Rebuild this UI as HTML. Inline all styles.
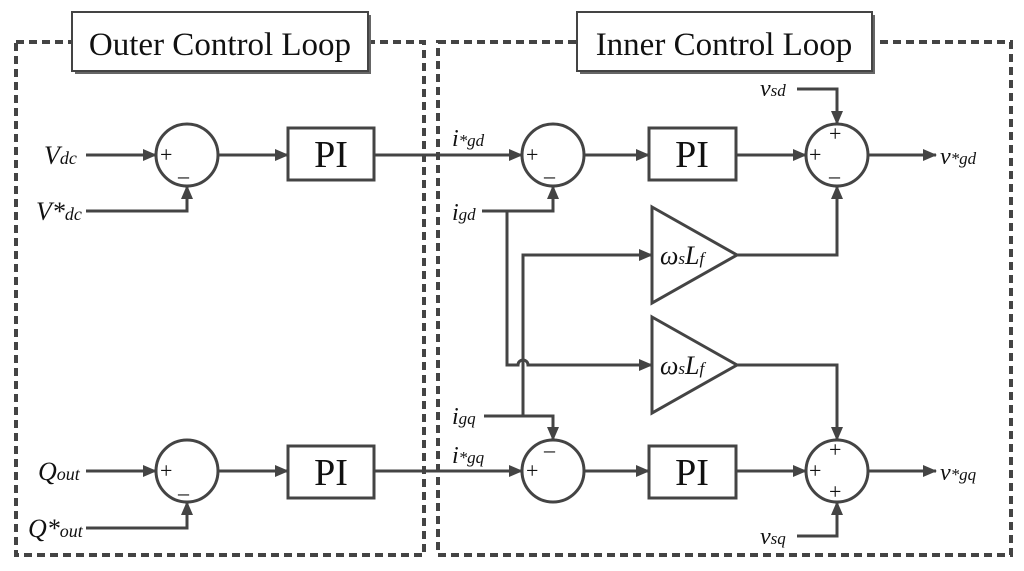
<!DOCTYPE html>
<html><head><meta charset="utf-8"><style>
html,body{margin:0;padding:0;background:#fff;}
svg{display:block;}
text{font-family:"Liberation Serif",serif;fill:#111;}
.it{font-style:italic;}
</style></head><body>
<svg width="1024" height="571" viewBox="0 0 1024 571" xmlns="http://www.w3.org/2000/svg">
<defs>
<marker id="a" viewBox="0 0 14 12" refX="13" refY="6" markerWidth="14" markerHeight="12" orient="auto" markerUnits="userSpaceOnUse">
<path d="M0,0 L14,6 L0,12 z" fill="#444"/>
</marker>
</defs>
<g fill="none" stroke="#444" stroke-width="4" stroke-dasharray="8,5">
<rect x="16" y="42" width="408" height="513"/>
<rect x="438" y="42" width="573" height="513"/>
</g>
<!-- title boxes -->
<rect x="75" y="15" width="296" height="59" fill="#666"/>
<rect x="72" y="12" width="296" height="59" fill="#fff" stroke="#444" stroke-width="2"/>
<text x="220" y="55" font-size="33" text-anchor="middle">Outer Control Loop</text>
<rect x="580" y="15" width="295" height="59" fill="#666"/>
<rect x="577" y="12" width="295" height="59" fill="#fff" stroke="#444" stroke-width="2"/>
<text x="724" y="55" font-size="33" text-anchor="middle">Inner Control Loop</text>

<g fill="none" stroke="#444" stroke-width="3">
<circle cx="187" cy="155" r="31"/>
<rect x="288" y="128" width="86" height="52"/>
<circle cx="187" cy="471" r="31"/>
<rect x="288" y="446" width="86" height="52"/>
<line x1="86" y1="155" x2="156" y2="155" marker-end="url(#a)"/>
<polyline points="86,211 187,211 187,186" marker-end="url(#a)"/>
<line x1="218" y1="155" x2="288" y2="155" marker-end="url(#a)"/>
<line x1="86" y1="471" x2="156" y2="471" marker-end="url(#a)"/>
<polyline points="86,528 187,528 187,502" marker-end="url(#a)"/>
<line x1="218" y1="471" x2="288" y2="471" marker-end="url(#a)"/>
<line x1="374" y1="155" x2="522" y2="155" marker-end="url(#a)"/>
<line x1="374" y1="471" x2="522" y2="471" marker-end="url(#a)"/>
<circle cx="553" cy="155" r="31"/>
<circle cx="553" cy="471" r="31"/>
<rect x="649" y="128" width="87" height="52"/>
<rect x="649" y="446" width="87" height="52"/>
<circle cx="837" cy="155" r="31"/>
<circle cx="837" cy="471" r="31"/>
<line x1="584" y1="155" x2="649" y2="155" marker-end="url(#a)"/>
<line x1="736" y1="155" x2="806" y2="155" marker-end="url(#a)"/>
<line x1="868" y1="155" x2="936" y2="155" marker-end="url(#a)"/>
<line x1="584" y1="471" x2="649" y2="471" marker-end="url(#a)"/>
<line x1="736" y1="471" x2="806" y2="471" marker-end="url(#a)"/>
<line x1="868" y1="471" x2="936" y2="471" marker-end="url(#a)"/>
<polyline points="797,89 837,89 837,124" marker-end="url(#a)"/>
<polyline points="797,536 837,536 837,502" marker-end="url(#a)"/>
<polygon points="652,207 737,255 652,303"/>
<polygon points="652,317 737,365 652,413"/>
<polyline points="737,255 837,255 837,186" marker-end="url(#a)"/>
<polyline points="737,365 837,365 837,440" marker-end="url(#a)"/>
<polyline points="482,211 553,211 553,186" marker-end="url(#a)"/>
<path d="M507,211 L507,365 L518,365 A5,5 0 0 1 528,365 L652,365" marker-end="url(#a)"/>
<polyline points="484,416 553,416 553,440" marker-end="url(#a)"/>
<polyline points="523,416 523,255 652,255" marker-end="url(#a)"/>
</g>
<g font-size="22">
<text x="160" y="162">+</text><text x="178" y="183">–</text>
<text x="160" y="478">+</text><text x="178" y="500">–</text>
<text x="526" y="162">+</text><text x="544" y="183">–</text>
<text x="526" y="478">+</text><text x="544" y="457">–</text>
<text x="809" y="162">+</text><text x="829" y="141">+</text><text x="829" y="183">–</text>
<text x="809" y="478">+</text><text x="829" y="457">+</text><text x="829" y="499">+</text>
</g>
<text x="692" y="167" font-size="38" text-anchor="middle">PI</text>
<text x="331" y="167" font-size="38" text-anchor="middle">PI</text>
<text x="331" y="485" font-size="38" text-anchor="middle">PI</text>
<text x="692" y="485" font-size="38" text-anchor="middle">PI</text>
<g class="it">
<text x="660" y="264" font-size="26" class="it">ω<tspan font-size="17">s</tspan>L<tspan font-size="17">f</tspan></text>
<text x="660" y="374" font-size="26" class="it">ω<tspan font-size="17">s</tspan>L<tspan font-size="17">f</tspan></text>
<text x="44" y="164" font-size="26" class="it">V<tspan font-size="18">dc</tspan></text>
<text x="36" y="220" font-size="26" class="it">V*<tspan font-size="18">dc</tspan></text>
<text x="38" y="480" font-size="26" class="it">Q<tspan font-size="18">out</tspan></text>
<text x="28" y="537" font-size="26" class="it">Q*<tspan font-size="18">out</tspan></text>
<text x="452" y="146" font-size="24" class="it">i<tspan font-size="17">*gd</tspan></text>
<text x="452" y="220" font-size="24" class="it">i<tspan font-size="17">gd</tspan></text>
<text x="452" y="424" font-size="24" class="it">i<tspan font-size="17">gq</tspan></text>
<text x="452" y="463" font-size="24" class="it">i<tspan font-size="17">*gq</tspan></text>
<text x="760" y="96" font-size="24" class="it">v<tspan font-size="17">sd</tspan></text>
<text x="760" y="544" font-size="24" class="it">v<tspan font-size="17">sq</tspan></text>
<text x="940" y="164" font-size="24" class="it">v<tspan font-size="17">*gd</tspan></text>
<text x="940" y="480" font-size="24" class="it">v<tspan font-size="17">*gq</tspan></text>
</g>
</svg>
</body></html>
